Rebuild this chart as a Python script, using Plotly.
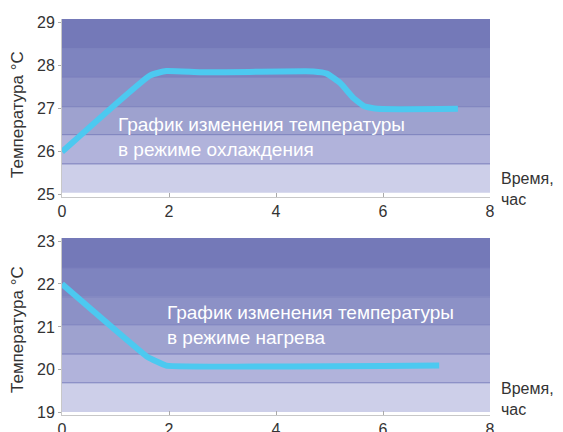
import plotly.graph_objects as go

# Data
cool_time = [0, 1.65, 1.95, 2.6, 3.5, 4.7, 4.95, 5.2, 5.45, 5.65, 5.9, 7.4]
cool_temp = [26.0, 27.78, 27.88, 27.85, 27.86, 27.87, 27.82, 27.6, 27.25, 27.06, 27.0, 27.0]
heat_time = [0, 1.6, 1.95, 7.05]
heat_temp = [22.0, 20.3, 20.1, 20.1]

cool_bands = [25.05, 25.72, 26.4, 27.05, 27.74, 28.4, 29.09]
heat_bands = [19.02, 19.70, 20.37, 21.05, 21.70, 22.37, 23.07]
band_colors = ["#cdcfe9", "#b1b3db", "#9ea2cf", "#8c91c6", "#7e84bf", "#7479b8"]

x_ticks = [0, 2, 4, 6, 8]
cool_yticks = [25, 26, 27, 28, 29]
heat_yticks = [19, 20, 21, 22, 23]

cool_label = "График изменения температуры<br>в режиме охлаждения"
heat_label = "График изменения температуры<br>в режиме нагрева"
y_title = "Температура °C"
x_title = "Время,<br>час"

LINE = "#4cc9f0"
FONT = "Liberation Sans, Arial, sans-serif"

# page body has an 8px margin; figure extends to the window's right/bottom edges
OFF = 8
W, H = 563 - OFF, 432 - OFF
def ph(p):
    return (p - OFF) / W
def pv(p):
    return 1 - (p - OFF) / H

fig = go.Figure()
fig.add_trace(go.Scatter(x=cool_time, y=cool_temp, mode="lines",
                         line=dict(color=LINE, width=6, shape="spline", smoothing=0.4),
                         xaxis="x", yaxis="y", showlegend=False, hoverinfo="skip"))
fig.add_trace(go.Scatter(x=heat_time, y=heat_temp, mode="lines",
                         line=dict(color=LINE, width=6, shape="spline", smoothing=0.25),
                         xaxis="x2", yaxis="y2", showlegend=False, hoverinfo="skip"))

shapes = []
for bands, xr, yr in [(cool_bands, "x", "y"), (heat_bands, "x2", "y2")]:
    for i in range(len(bands) - 1):
        shapes.append(dict(type="rect", xref=xr, yref=yr, x0=0, x1=8,
                           y0=bands[i], y1=bands[i + 1], fillcolor=band_colors[i],
                           line=dict(width=0), layer="below"))
    for b in bands[1:-1]:
        shapes.append(dict(type="line", xref=xr, yref=yr, x0=0, x1=8, y0=b, y1=b,
                           line=dict(color="#7a7fbc", width=1), layer="below"))

xdom = [ph(62), ph(490)]

axis_common = dict(showgrid=False, zeroline=False, showline=True, linecolor="#c8c8c8",
                   linewidth=1, automargin=False,
                   tickfont=dict(family=FONT, size=16, color="#333333"))

fig.update_layout(
    width=W, height=H, margin=dict(l=0, r=0, t=0, b=0, autoexpand=False),
    paper_bgcolor="white", plot_bgcolor="white",
    shapes=shapes,
    xaxis=dict(domain=xdom, anchor="y", range=[0, 8], tickvals=x_ticks,
               ticks="inside", ticklen=4, tickcolor="#aaaaaa", **axis_common),
    yaxis=dict(domain=[pv(197), pv(19)], anchor="x", range=[24.95, 29.09],
               tickvals=cool_yticks, ticks="outside", ticklen=3, tickcolor="#aaaaaa", **axis_common),
    xaxis2=dict(domain=xdom, anchor="y2", range=[0, 8], tickvals=x_ticks,
                ticks="inside", ticklen=4, tickcolor="#aaaaaa", **axis_common),
    yaxis2=dict(domain=[pv(415), pv(238)], anchor="x2", range=[18.95, 23.07],
                tickvals=heat_yticks, ticks="outside", ticklen=3, tickcolor="#aaaaaa", **axis_common),
    annotations=[
        dict(text=cool_label, xref="paper", yref="paper", x=ph(116), y=pv(137),
             xanchor="left", yanchor="middle", align="left", showarrow=False,
             font=dict(family=FONT, size=19, color="white")),
        dict(text=heat_label, xref="paper", yref="paper", x=ph(165), y=pv(325),
             xanchor="left", yanchor="middle", align="left", showarrow=False,
             font=dict(family=FONT, size=19, color="white")),
        dict(text=y_title, xref="paper", yref="paper", x=ph(17), y=pv(115),
             textangle=-90, xanchor="center", yanchor="middle", showarrow=False,
             font=dict(family=FONT, size=17, color="#333333")),
        dict(text=y_title, xref="paper", yref="paper", x=ph(17), y=pv(330),
             textangle=-90, xanchor="center", yanchor="middle", showarrow=False,
             font=dict(family=FONT, size=17, color="#333333")),
        dict(text=x_title, xref="paper", yref="paper", x=ph(499), y=pv(189),
             xanchor="left", yanchor="middle", align="left", showarrow=False,
             font=dict(family=FONT, size=16, color="#333333")),
        dict(text=x_title, xref="paper", yref="paper", x=ph(499), y=pv(399),
             xanchor="left", yanchor="middle", align="left", showarrow=False,
             font=dict(family=FONT, size=16, color="#333333")),
    ],
)

fig.write_html("out.html")
